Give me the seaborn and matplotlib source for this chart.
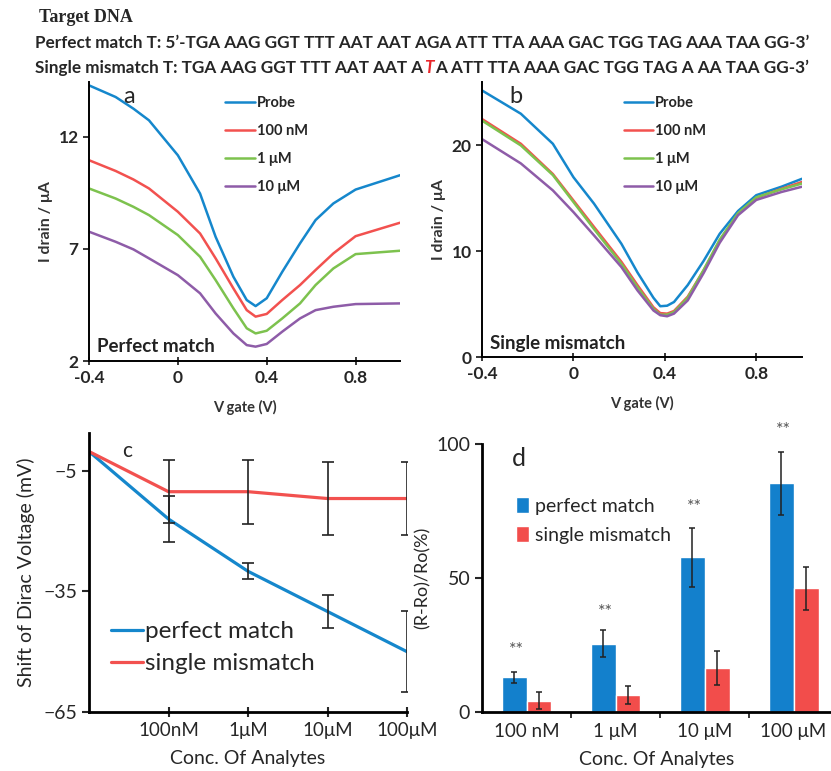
import numpy as np
import pandas as pd
import matplotlib
matplotlib.use("Agg")
import matplotlib.pyplot as plt
import seaborn as sns

# ---- panel a: transfer curves, perfect match ----
vg_a = [-0.40, -0.28, -0.20, -0.13, 0.00, 0.10, 0.17, 0.25, 0.31, 0.35, 0.40, 0.47, 0.55, 0.62, 0.70, 0.80, 1.00]
a_probe = [14.3, 13.78, 13.26, 12.74, 11.18, 9.47, 7.54, 5.76, 4.72, 4.45, 4.8, 5.98, 7.25, 8.29, 9.03, 9.65, 10.29]
a_100nM = [10.96, 10.48, 10.1, 9.7, 8.66, 7.69, 6.58, 5.24, 4.27, 3.98, 4.1, 4.72, 5.39, 6.06, 6.8, 7.57, 8.17]
a_1uM = [9.7, 9.25, 8.88, 8.51, 7.62, 6.65, 5.61, 4.35, 3.46, 3.23, 3.35, 3.9, 4.57, 5.39, 6.13, 6.77, 6.92]
a_10uM = [7.77, 7.32, 6.98, 6.58, 5.83, 5.02, 4.12, 3.23, 2.71, 2.64, 2.76, 3.31, 3.9, 4.27, 4.42, 4.54, 4.57]

# ---- panel b: transfer curves, single mismatch ----
vg_b = [-0.40, -0.23, -0.09, 0.00, 0.09, 0.21, 0.28, 0.35, 0.38, 0.41, 0.44, 0.50, 0.57, 0.64, 0.72, 0.80, 0.91, 1.00]
b_probe = [25.2, 23.0, 20.16, 17.0, 14.5, 10.7, 8.0, 5.6, 4.8, 4.85, 5.2, 6.8, 9.1, 11.65, 13.8, 15.3, 16.1, 16.85]
b_100nM = [22.5, 20.16, 17.3, 14.8, 12.3, 9.0, 6.8, 4.7, 4.15, 4.1, 4.35, 5.7, 8.2, 11.0, 13.5, 15.05, 15.9, 16.55]
b_1uM = [22.35, 20.0, 17.2, 14.65, 12.1, 8.8, 6.6, 4.55, 4.0, 4.0, 4.25, 5.6, 8.25, 11.1, 13.6, 15.1, 15.85, 16.4]
b_10uM = [20.6, 18.3, 15.75, 13.7, 11.5, 8.5, 6.3, 4.4, 3.95, 3.85, 4.1, 5.35, 7.95, 10.8, 13.4, 14.85, 15.6, 16.1]

curve_labels = ["Probe", "100 nM", "1 μM", "10 μM"]

# ---- panel c: Dirac voltage shift ----
conc_c = ["", "100nM", "1μM", "10μM", "100μM"]
shift_pm = [-0.2, -17.0, -30.0, -40.0, -50.0]
shift_pm_err = [0, 5.7, 2.0, 4.0, 10.0]
shift_sm = [-0.2, -10.2, -10.2, -11.9, -11.9]
shift_sm_err = [0, 7.9, 8.0, 9.0, 9.0]

# ---- panel d: relative response ----
conc_d = ["100 nM", "1 μM", "10 μM", "100 μM"]
resp_pm = [13.0, 25.5, 57.8, 85.3]
resp_pm_err = [2.0, 5.0, 11.0, 11.7]
resp_sm = [4.2, 6.3, 16.3, 46.1]
resp_sm_err = [3.1, 3.4, 6.3, 8.1]
star_y = [23.2, 37.5, 76.4, 105.3]

BLUE = "#1587cc"
RED = "#f2514f"
GREEN = "#7dc24e"
PURPLE = "#8e5ca8"
curve_pal = dict(zip(curve_labels, [BLUE, RED, GREEN, PURPLE]))

sns.set_style("ticks")
plt.rcParams["font.family"] = ["Lato", "DejaVu Sans"]

W, H = 831, 771
fig = plt.figure(figsize=(W / 100, H / 100), dpi=100)


def rect(l, t, r, b):
    return [l / W, 1 - b / H, (r - l) / W, (b - t) / H]


def long_df(x, series):
    rows = []
    for lab, ys in zip(curve_labels, series):
        for xv, yv in zip(x, ys):
            rows.append({"V": xv, "I": yv, "curve": lab})
    return pd.DataFrame(rows)


def curve_panel(box, x, series, ylim, yticks, letter, note, letter_x, leg_x):
    ax = fig.add_axes(rect(*box))
    sns.lineplot(data=long_df(x, series), x="V", y="I", hue="curve",
                 palette=curve_pal, linewidth=1.8, ax=ax, sort=False)
    ax.set_xlim(-0.4, 1.0)
    ax.set_ylim(*ylim)
    ax.set_xticks([-0.4, 0, 0.4, 0.8])
    ax.set_xticklabels(["-0.4", "0", "0.4", "0.8"])
    ax.set_yticks(yticks)
    ax.tick_params(axis="x", direction="inout", length=6, width=1.3, labelsize=12.5)
    ax.tick_params(axis="y", direction="out", length=4, width=1.3, labelsize=12.5)
    for t in ax.get_xticklabels() + ax.get_yticklabels():
        t.set_fontweight("bold")
    for s in ["top", "right"]:
        ax.spines[s].set_visible(False)
    for s in ["left", "bottom"]:
        ax.spines[s].set_linewidth(1.4)
        ax.spines[s].set_color("black")
    ax.set_xlabel("V gate (V)", fontsize=10.5, fontweight="bold", color="#333333", labelpad=10)
    ax.set_ylabel("I drain / μA", fontsize=11.5, fontweight="bold", color="#333333")
    ax.text(letter_x, 0.985, letter, transform=ax.transAxes, fontsize=17, va="top", ha="left")
    ax.text(0.025, 0.02, note, transform=ax.transAxes, fontsize=13.5, fontweight="bold",
            va="bottom", ha="left", color="#222222")
    h, l = ax.get_legend_handles_labels()
    ax.legend(h, l, loc="upper left", bbox_to_anchor=(leg_x, 0.97), frameon=False,
              prop={"size": 10.5, "weight": "bold"}, handlelength=2.0,
              handletextpad=0.15, labelspacing=0.95, borderaxespad=0)
    return ax


ax_a = curve_panel((89, 82, 400, 361), vg_a, [a_probe, a_100nM, a_1uM, a_10uM],
                   (2, 14.45), [2, 7, 12], "a", "Perfect match", 0.11, 0.42)
ax_b = curve_panel((482, 82, 802, 357), vg_b, [b_probe, b_100nM, b_1uM, b_10uM],
                   (0, 26), [0, 10, 20], "b", "Single mismatch", 0.085, 0.425)

# ---- panel c ----
ax_c = fig.add_axes(rect(89, 433, 407, 712))
xs = list(range(len(conc_c)))
df_c = pd.DataFrame({"pos": xs * 2, "shift": shift_pm + shift_sm,
                     "series": ["perfect match"] * len(xs) + ["single mismatch"] * len(xs)})
sns.lineplot(data=df_c, x="pos", y="shift", hue="series",
             palette={"perfect match": BLUE, "single mismatch": RED},
             linewidth=2.3, ax=ax_c)
ax_c.errorbar(xs[1:], shift_pm[1:], yerr=shift_pm_err[1:], fmt="none",
              ecolor="#222222", elinewidth=1.2, capsize=4, capthick=1.2)
ax_c.errorbar(xs[1:], shift_sm[1:], yerr=shift_sm_err[1:], fmt="none",
              ecolor="#222222", elinewidth=1.2, capsize=4, capthick=1.2)
ax_c.set_xlim(0, 4)
ax_c.set_ylim(-65, 4.4)
ax_c.set_xticks(xs[1:])
ax_c.set_xticklabels(conc_c[1:])
ax_c.set_yticks([-65, -35, -5])
ax_c.tick_params(axis="x", direction="inout", length=7, width=1.5, labelsize=13.5)
ax_c.tick_params(axis="y", direction="out", length=5, width=1.5, labelsize=14)
for s in ["top", "right"]:
    ax_c.spines[s].set_visible(False)
for s in ["left", "bottom"]:
    ax_c.spines[s].set_linewidth(2)
    ax_c.spines[s].set_color("black")
ax_c.set_xlabel("Conc. Of Analytes", fontsize=14, labelpad=8)
ax_c.set_ylabel("Shift of Dirac Voltage (mV)", fontsize=14, labelpad=6)
ax_c.text(0.105, 0.97, "c", transform=ax_c.transAxes, fontsize=15, va="top")
h, l = ax_c.get_legend_handles_labels()
ax_c.legend(h, l, loc="upper left", bbox_to_anchor=(0.04, 0.36), frameon=False,
            fontsize=17.5, handlelength=1.3, handletextpad=0.1, labelspacing=0.45,
            borderaxespad=0)

# ---- panel d ----
ax_d = fig.add_axes(rect(482, 444, 831, 712))
df_d = pd.DataFrame({"conc": conc_d * 2, "resp": resp_pm + resp_sm,
                     "series": ["perfect match"] * 4 + ["single mismatch"] * 4})
sns.barplot(data=df_d, x="conc", y="resp", hue="series",
            palette={"perfect match": "#1380cc", "single mismatch": "#f24d4b"},
            width=0.56, gap=0, saturation=1, errorbar=None, ax=ax_d)
for cont, errs in zip(ax_d.containers, [resp_pm_err, resp_sm_err]):
    cx = [p.get_x() + p.get_width() / 2 for p in cont]
    cy = [p.get_height() for p in cont]
    ax_d.errorbar(cx, cy, yerr=errs, fmt="none", ecolor="#222222",
                  elinewidth=1.1, capsize=2.5, capthick=1.1)
for cx_i, sy in zip(range(len(conc_d)), star_y):
    ax_d.text(cx_i - 0.11, sy, "**", ha="center", va="center", fontsize=13,
              color="#555555", clip_on=False)
ax_d.set_xlim(-0.5, 3.42)
ax_d.set_ylim(0, 100)
ax_d.set_yticks([0, 50, 100])
ax_d.set_xticks([0.5, 1.5, 2.5], minor=True)
ax_d.tick_params(axis="x", which="major", length=0, labelsize=13.5, pad=8)
ax_d.tick_params(axis="x", which="minor", direction="out", length=4, width=1.3)
ax_d.tick_params(axis="y", direction="out", length=5, width=1.5, labelsize=14)
for s in ["top", "right"]:
    ax_d.spines[s].set_visible(False)
for s in ["left", "bottom"]:
    ax_d.spines[s].set_linewidth(2)
    ax_d.spines[s].set_color("black")
ax_d.set_xlabel("Conc. Of Analytes", fontsize=14, labelpad=8)
ax_d.set_ylabel("(R-Ro)/Ro(%)", fontsize=13)
ax_d.text(0.085, 0.99, "d", transform=ax_d.transAxes, fontsize=18, va="top")
h, l = ax_d.get_legend_handles_labels()
ax_d.legend(h, l, loc="upper left", bbox_to_anchor=(0.075, 0.83), frameon=False,
            fontsize=14, handlelength=0.65, handleheight=0.9, handletextpad=0.35,
            labelspacing=0.55, borderaxespad=0)

# ---- header text ----
seq_size = 12.3
fig.text(39 / W, 1 - 18 / H, "Target DNA", family="Liberation Serif", fontweight="bold",
         fontsize=13, va="center", ha="left")
fig.text(35 / W, 1 - 48 / H,
         "Perfect match T: 5’-TGA AAG GGT TTT AAT AAT AGA ATT TTA AAA GAC TGG TAG AAA TAA GG-3’",
         fontsize=seq_size, fontweight="bold", va="baseline", ha="left")
base2 = 1 - 73 / H
t1 = fig.text(35 / W, base2, "Single mismatch T: TGA AAG GGT TTT AAT AAT A",
              fontsize=seq_size, fontweight="bold", va="baseline", ha="left")
t2 = fig.text(0, base2, "T", fontsize=seq_size, fontweight="bold", style="italic",
              color="#e8262a", va="baseline", ha="left")
t3 = fig.text(0, base2, "A ATT TTA AAA GAC TGG TAG A AA TAA GG-3’",
              fontsize=seq_size, fontweight="bold", va="baseline", ha="left")

fig.canvas.draw()
r = fig.canvas.get_renderer()
inv = fig.transFigure.inverted()
t2.set_position((inv.transform((t1.get_window_extent(r).x1 + 1, 0))[0], base2))
fig.canvas.draw()
t3.set_position((inv.transform((t2.get_window_extent(r).x1 + 1, 0))[0], base2))

fig.savefig("out.png", dpi=100)
